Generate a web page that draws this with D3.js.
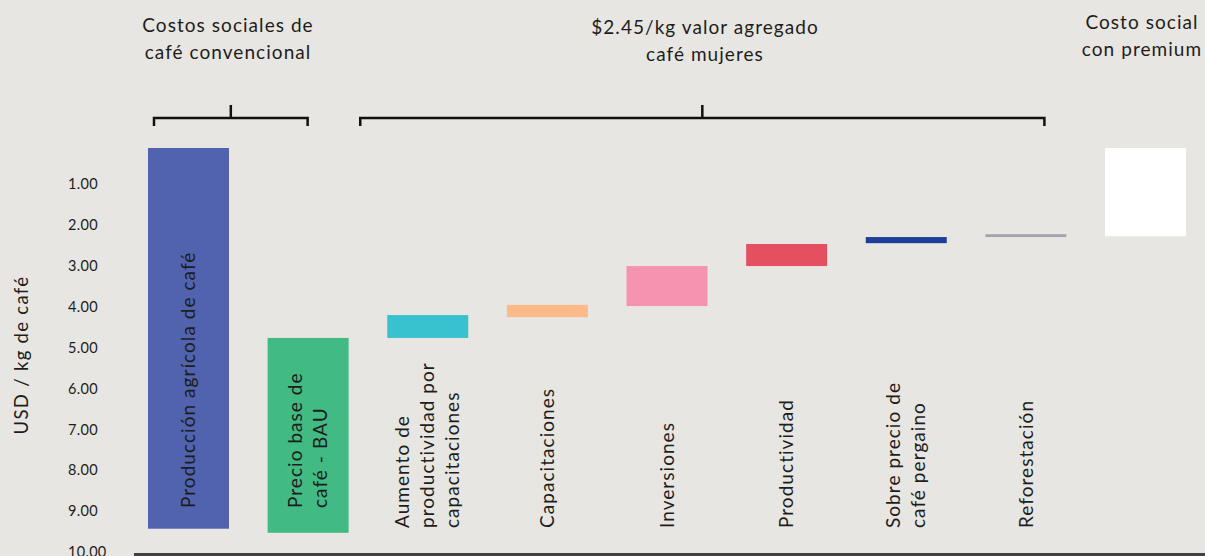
<!DOCTYPE html>
<meta charset="utf-8">
<script src="https://d3js.org/d3.v7.min.js"></script>
<style>
  body { margin: 0; background: #e8e6e2; }
  svg { display: block; font-family: Lato, "Open Sans", sans-serif; }
</style>
<div id="chart"></div>
<script>
// categories (one per bar), start / end of each floating bar in USD/kg
var categorias = ["Producción agrícola de café", "Precio base de café - BAU",
  "Aumento de productividad por capacitaciones", "Capacitaciones", "Inversiones",
  "Productividad", "Sobre precio de café pergaino", "Reforestación", "Costo social con premium"];
var inicio = [0.11, 4.76, 4.20, 3.95, 3.00, 2.46, 2.29, 2.22, 0.11];
var fin    = [9.43, 9.53, 4.76, 4.25, 3.98, 3.00, 2.44, 2.29, 2.27];
var colores = ["#5163ae", "#41ba84", "#38c2cf", "#fbba87", "#f593b0", "#e55061", "#1e3f98", "#a6a3b0", "#ffffff"];

// label lines written on / under each bar (last one has its label in the header)
var etiquetas = [
  ["Producción agrícola de café"],
  ["Precio base de", "café - BAU"],
  ["Aumento de", "productividad por", "capacitaciones"],
  ["Capacitaciones"],
  ["Inversiones"],
  ["Productividad"],
  ["Sobre precio de", "café pergaino"],
  ["Reforestación"],
  []
];
var dentro = [true, true, false, false, false, false, false, false, false];

var yTicks = [1, 2, 3, 4, 5, 6, 7, 8, 9, 10];
var encabezados = [
  ["Costos sociales de", "café convencional"],
  ["$2.45/kg valor agregado", "café mujeres"],
  ["Costo social", "con premium"]
];

var width = 1205, height = 556;
var ink = "#1d1d1b";
var spacing = "1.05px";

var svg = d3.select("#chart").append("svg")
  .attr("width", width)
  .attr("height", height);

var x = d3.scaleBand()
  .domain(categorias)
  .range([148, 1186])
  .paddingInner(0.323)
  .paddingOuter(0);

var y = d3.scaleLinear()
  .domain([0, 10])
  .range([143.5, 552]);

// Y axis (values grow downward)
var yAxis = svg.append("g")
  .attr("transform", "translate(68,0)")
  .call(d3.axisLeft(y).tickValues(yTicks).tickFormat(d3.format(".2f")).tickSize(0));
yAxis.select(".domain").remove();
yAxis.selectAll("text")
  .attr("x", 0)
  .attr("text-anchor", "start")
  .attr("fill", ink)
  .style("font-family", "Lato, sans-serif")
  .style("font-size", "14.5px")
  .style("letter-spacing", "0.3px");

svg.append("text")
  .attr("transform", "translate(28,355) rotate(-90)")
  .attr("text-anchor", "middle")
  .attr("fill", ink)
  .style("font-size", "18.5px")
  .style("letter-spacing", "1.3px")
  .text("USD / kg de café");

// bars
svg.selectAll("rect.bar")
  .data(categorias)
  .enter().append("rect")
  .attr("class", "bar")
  .attr("x", function(d) { return x(d); })
  .attr("width", x.bandwidth())
  .attr("y", function(d, i) { return y(Math.min(inicio[i], fin[i])); })
  .attr("height", function(d, i) { return Math.abs(y(fin[i]) - y(inicio[i])); })
  .attr("fill", function(d, i) { return colores[i]; });

// baseline
svg.append("line")
  .attr("x1", 134).attr("x2", width)
  .attr("y1", 554.5).attr("y2", 554.5)
  .attr("stroke", "#404040")
  .attr("stroke-width", 3);

// rotated bar labels
var lh = 25;
categorias.forEach(function(c, i) {
  var lines = etiquetas[i];
  if (!lines.length) return;
  var cx = x(c) + x.bandwidth() / 2;
  var base = dentro[i] ? 508 : 528;
  var g = svg.append("text")
    .attr("transform", "translate(" + cx + "," + base + ") rotate(-90)")
    .attr("text-anchor", "start")
    .attr("fill", ink)
    .style("font-size", "19px")
    .style("letter-spacing", spacing);
  lines.forEach(function(t, k) {
    g.append("tspan")
      .attr("x", 0)
      .attr("y", (k - (lines.length - 1) / 2) * lh)
      .attr("dy", "0.35em")
      .text(t);
  });
});

// header texts
var headX = [228, 705, 1142];
var headY = [25, 27, 22];
encabezados.forEach(function(lines, i) {
  var t = svg.append("text")
    .attr("text-anchor", "middle")
    .attr("fill", ink)
    .style("font-size", "19px")
    .style("letter-spacing", spacing);
  lines.forEach(function(s, k) {
    t.append("tspan")
      .attr("x", headX[i])
      .attr("y", headY[i] + k * 27)
      .attr("dy", "0.35em")
      .text(s);
  });
});

// brackets
var brackets = [
  [x(categorias[0]) + 6, x(categorias[1]) + 40],
  [x(categorias[2]) - 27, x(categorias[7]) + 59]
];
brackets.forEach(function(b) {
  var mid = (b[0] + b[1]) / 2;
  svg.append("path")
    .attr("d", "M" + b[0] + ",126V118H" + b[1] + "V126M" + mid + ",118V105")
    .attr("fill", "none")
    .attr("stroke", "#111")
    .attr("stroke-width", 2.5);
});
</script>
